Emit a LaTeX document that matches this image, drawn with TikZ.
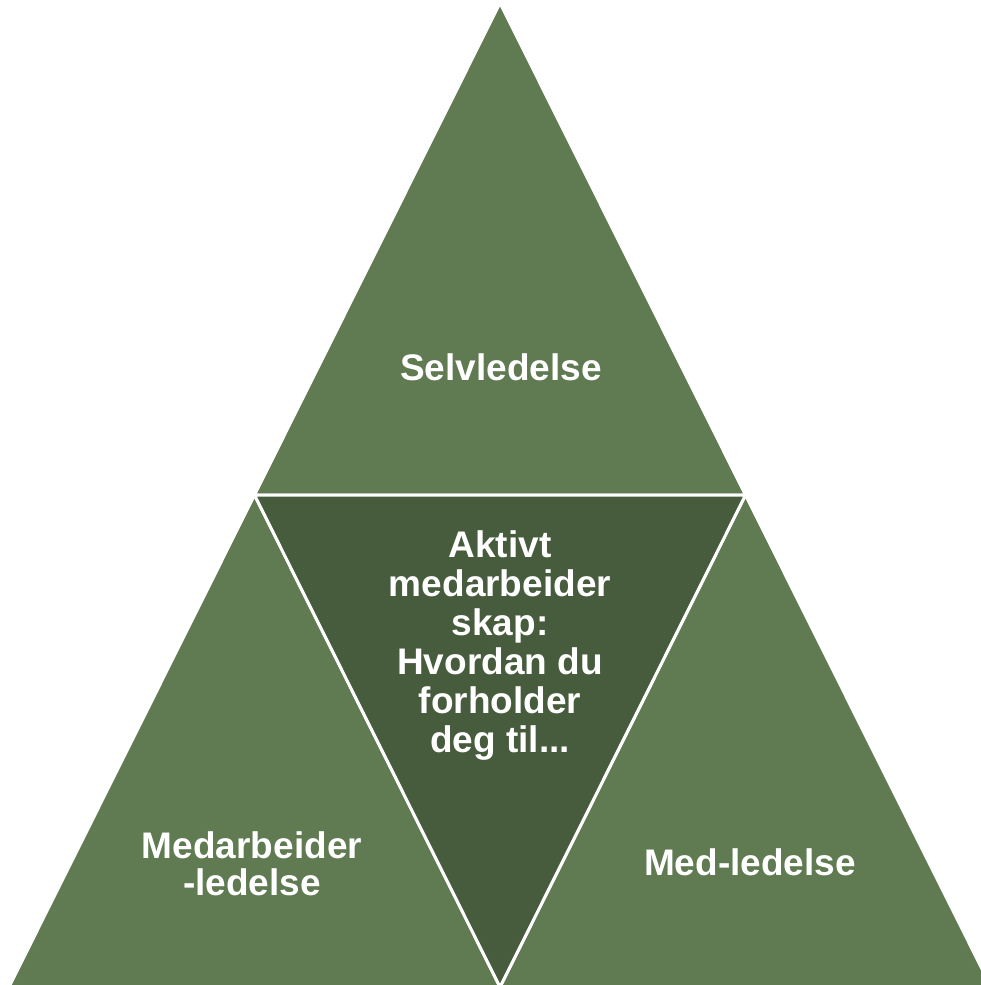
\documentclass[tikz,border=0pt]{standalone}
\usepackage{fontspec}
\setmainfont{Liberation Sans}
\definecolor{outergreen}{RGB}{96,122,82}
\definecolor{innergreen}{RGB}{71,91,61}
\begin{document}
\begin{tikzpicture}[x=1pt,y=-1pt,
  tri/.style={fill=outergreen,draw=white,line width=3pt,line join=miter},
  midtri/.style={fill=innergreen,draw=white,line width=3pt,line join=miter},
  lbl/.style={text=white,font=\fontsize{37}{39}\selectfont\bfseries,align=center,inner sep=0pt}]
\useasboundingbox (0,0) rectangle (981,985);
\begin{scope}
\clip (0,0) rectangle (981,985);
\coordinate (A) at (500,3);
\coordinate (L) at (9,987);
\coordinate (R) at (991,987);
\coordinate (ML) at (254.5,495);
\coordinate (MR) at (745.5,495);
\coordinate (MB) at (500,987);
\draw[tri] (A) -- (MR) -- (ML) -- cycle;
\draw[tri] (ML) -- (MB) -- (L) -- cycle;
\draw[tri] (MR) -- (R) -- (MB) -- cycle;
\draw[midtri] (ML) -- (MR) -- (MB) -- cycle;
\end{scope}
\node[lbl] (top) at (501,367) {Selvledelse};
\node[lbl,font=\fontsize{37}{39}\selectfont\bfseries] (mid) at (500,646) {Aktivt\\medarbeider\\skap:\\Hvordan du\\forholder\\deg til...};
\node[lbl,font=\fontsize{37}{37}\selectfont\bfseries] (left) at (252,864) {Medarbeider\\-ledelse};
\node[lbl] (right) at (750,862) {Med-ledelse};
\end{tikzpicture}
\end{document}
